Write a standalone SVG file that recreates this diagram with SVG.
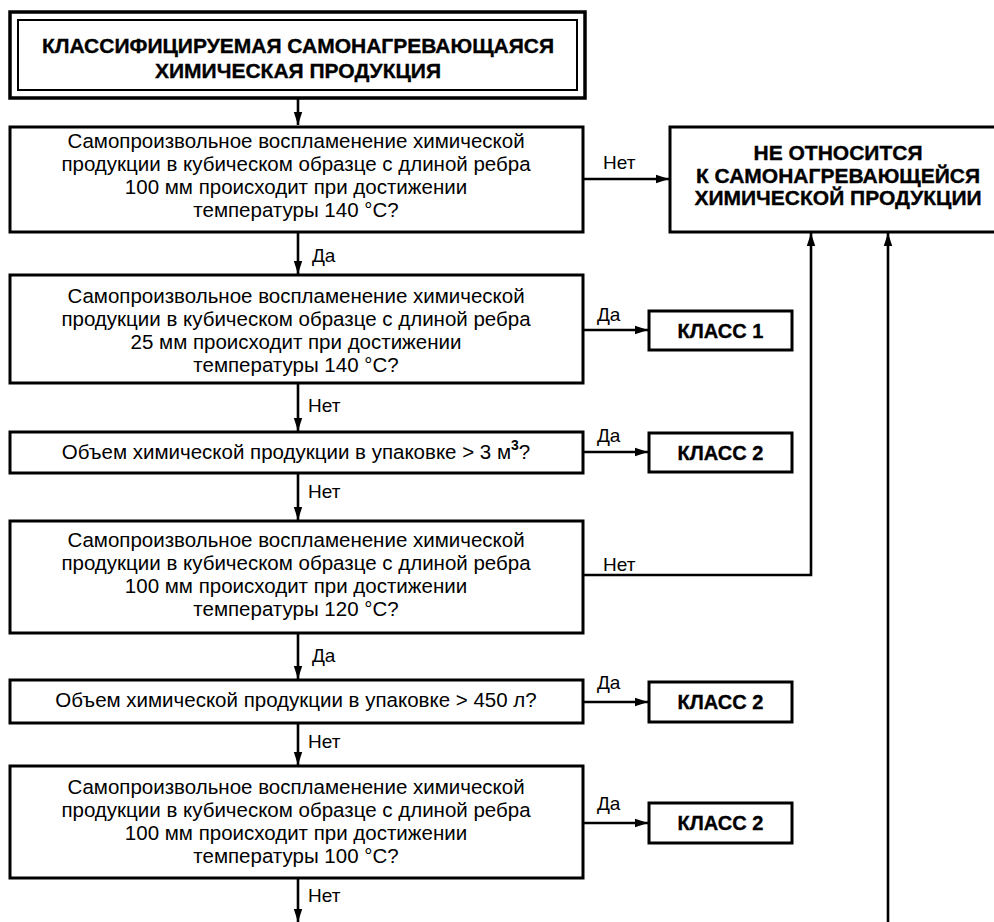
<svg xmlns="http://www.w3.org/2000/svg" width="994" height="922" viewBox="0 0 994 922">
<style>
.box{fill:#fff;stroke:#000;stroke-width:3}
.t{font-family:"Liberation Sans",Arial,sans-serif;font-size:20.5px;fill:#000;text-anchor:middle}
.b{font-family:"Liberation Sans",Arial,sans-serif;font-size:21px;font-weight:bold;fill:#000;stroke:#000;stroke-width:0.35;text-anchor:middle}
.k{font-family:"Liberation Sans",Arial,sans-serif;font-size:20px;font-weight:bold;fill:#000;stroke:#000;stroke-width:0.35;text-anchor:middle}
.l{font-family:"Liberation Sans",Arial,sans-serif;font-size:19px;fill:#000}
.c{fill:none;stroke:#000;stroke-width:2.6}
</style>
<defs>
<marker id="ah" markerUnits="userSpaceOnUse" markerWidth="14" markerHeight="10" refX="13" refY="5" orient="auto">
<path d="M0,0.8 L13,5 L0,9.2 Z" fill="#000"/>
</marker>
</defs>
<g id="connectors">
<line class="c" x1="298" y1="98" x2="298" y2="125" marker-end="url(#ah)"/>
<line class="c" x1="583" y1="179" x2="669" y2="179" marker-end="url(#ah)"/>
<line class="c" x1="298" y1="232" x2="298" y2="274" marker-end="url(#ah)"/>
<line class="c" x1="583" y1="330" x2="648" y2="330" marker-end="url(#ah)"/>
<line class="c" x1="298" y1="383" x2="298" y2="431" marker-end="url(#ah)"/>
<line class="c" x1="583" y1="452" x2="648" y2="452" marker-end="url(#ah)"/>
<line class="c" x1="298" y1="473" x2="298" y2="520" marker-end="url(#ah)"/>
<polyline class="c" points="583,575 811,575 811,233" marker-end="url(#ah)"/>
<line class="c" x1="888" y1="922" x2="888" y2="233" marker-end="url(#ah)"/>
<line class="c" x1="298" y1="633" x2="298" y2="679" marker-end="url(#ah)"/>
<line class="c" x1="583" y1="702" x2="648" y2="702" marker-end="url(#ah)"/>
<line class="c" x1="298" y1="723" x2="298" y2="765" marker-end="url(#ah)"/>
<line class="c" x1="583" y1="823" x2="648" y2="823" marker-end="url(#ah)"/>
<line class="c" x1="298" y1="878" x2="298" y2="922" marker-end="url(#ah)"/>
<text class="l" x="603" y="169">Нет</text>
<text class="l" x="312" y="262">Да</text>
<text class="l" x="597" y="321">Да</text>
<text class="l" x="308" y="412">Нет</text>
<text class="l" x="597" y="442">Да</text>
<text class="l" x="308" y="498">Нет</text>
<text class="l" x="603" y="571">Нет</text>
<text class="l" x="312" y="662">Да</text>
<text class="l" x="597" y="689">Да</text>
<text class="l" x="308" y="748">Нет</text>
<text class="l" x="597" y="810">Да</text>
<text class="l" x="308" y="902">Нет</text>
</g>
<g id="start">
<rect x="10" y="12" width="575" height="86" fill="#fff" stroke="#000" stroke-width="3.5"/>
<rect x="18" y="20" width="559" height="70" fill="none" stroke="#000" stroke-width="2"/>
<text class="b" x="298" y="53">КЛАССИФИЦИРУЕМАЯ САМОНАГРЕВАЮЩАЯСЯ</text>
<text class="b" x="298" y="78">ХИМИЧЕСКАЯ ПРОДУКЦИЯ</text>
</g>
<g id="q1">
<rect class="box" x="10" y="127" width="573" height="105"/>
<text class="t" x="296" y="148">Самопроизвольное воспламенение химической</text>
<text class="t" x="296" y="171">продукции в кубическом образце с длиной ребра</text>
<text class="t" x="296" y="194">100 мм происходит при достижении</text>
<text class="t" x="296" y="217">температуры 140 °С?</text>
</g>
<g id="notself">
<rect class="box" x="670" y="127" width="340" height="105"/>
<text class="b" x="838" y="160">НЕ ОТНОСИТСЯ</text>
<text class="b" x="838" y="183">К САМОНАГРЕВАЮЩЕЙСЯ</text>
<text class="b" x="838" y="205">ХИМИЧЕСКОЙ ПРОДУКЦИИ</text>
</g>
<g id="q2">
<rect class="box" x="10" y="275" width="573" height="108"/>
<text class="t" x="296" y="303">Самопроизвольное воспламенение химической</text>
<text class="t" x="296" y="326">продукции в кубическом образце с длиной ребра</text>
<text class="t" x="296" y="349">25 мм происходит при достижении</text>
<text class="t" x="296" y="372">температуры 140 °С?</text>
</g>
<g id="class1">
<rect class="box" x="649" y="311" width="143" height="39"/>
<text class="k" x="720.5" y="338">КЛАСС 1</text>
</g>
<g id="q3">
<rect class="box" x="10" y="432" width="573" height="41"/>
<text class="t" x="296" y="459">Объем химической продукции в упаковке &gt; 3 м<tspan dy="-9" font-size="14" font-weight="bold">3</tspan><tspan dy="9">?</tspan></text>
</g>
<g id="class2a">
<rect class="box" x="649" y="433" width="143" height="39"/>
<text class="k" x="720.5" y="460">КЛАСС 2</text>
</g>
<g id="q4">
<rect class="box" x="10" y="521" width="573" height="112"/>
<text class="t" x="296" y="546.5">Самопроизвольное воспламенение химической</text>
<text class="t" x="296" y="569.5">продукции в кубическом образце с длиной ребра</text>
<text class="t" x="296" y="592.5">100 мм происходит при достижении</text>
<text class="t" x="296" y="615.5">температуры 120 °С?</text>
</g>
<g id="q5">
<rect class="box" x="10" y="680" width="573" height="43"/>
<text class="t" x="296" y="707">Объем химической продукции в упаковке &gt; 450 л?</text>
</g>
<g id="class2b">
<rect class="box" x="649" y="682" width="143" height="40"/>
<text class="k" x="720.5" y="709">КЛАСС 2</text>
</g>
<g id="q6">
<rect class="box" x="10" y="766" width="573" height="112"/>
<text class="t" x="296" y="793.5">Самопроизвольное воспламенение химической</text>
<text class="t" x="296" y="816.5">продукции в кубическом образце с длиной ребра</text>
<text class="t" x="296" y="839.5">100 мм происходит при достижении</text>
<text class="t" x="296" y="862.5">температуры 100 °С?</text>
</g>
<g id="class2c">
<rect class="box" x="649" y="803" width="143" height="40"/>
<text class="k" x="720.5" y="830">КЛАСС 2</text>
</g>
</svg>
